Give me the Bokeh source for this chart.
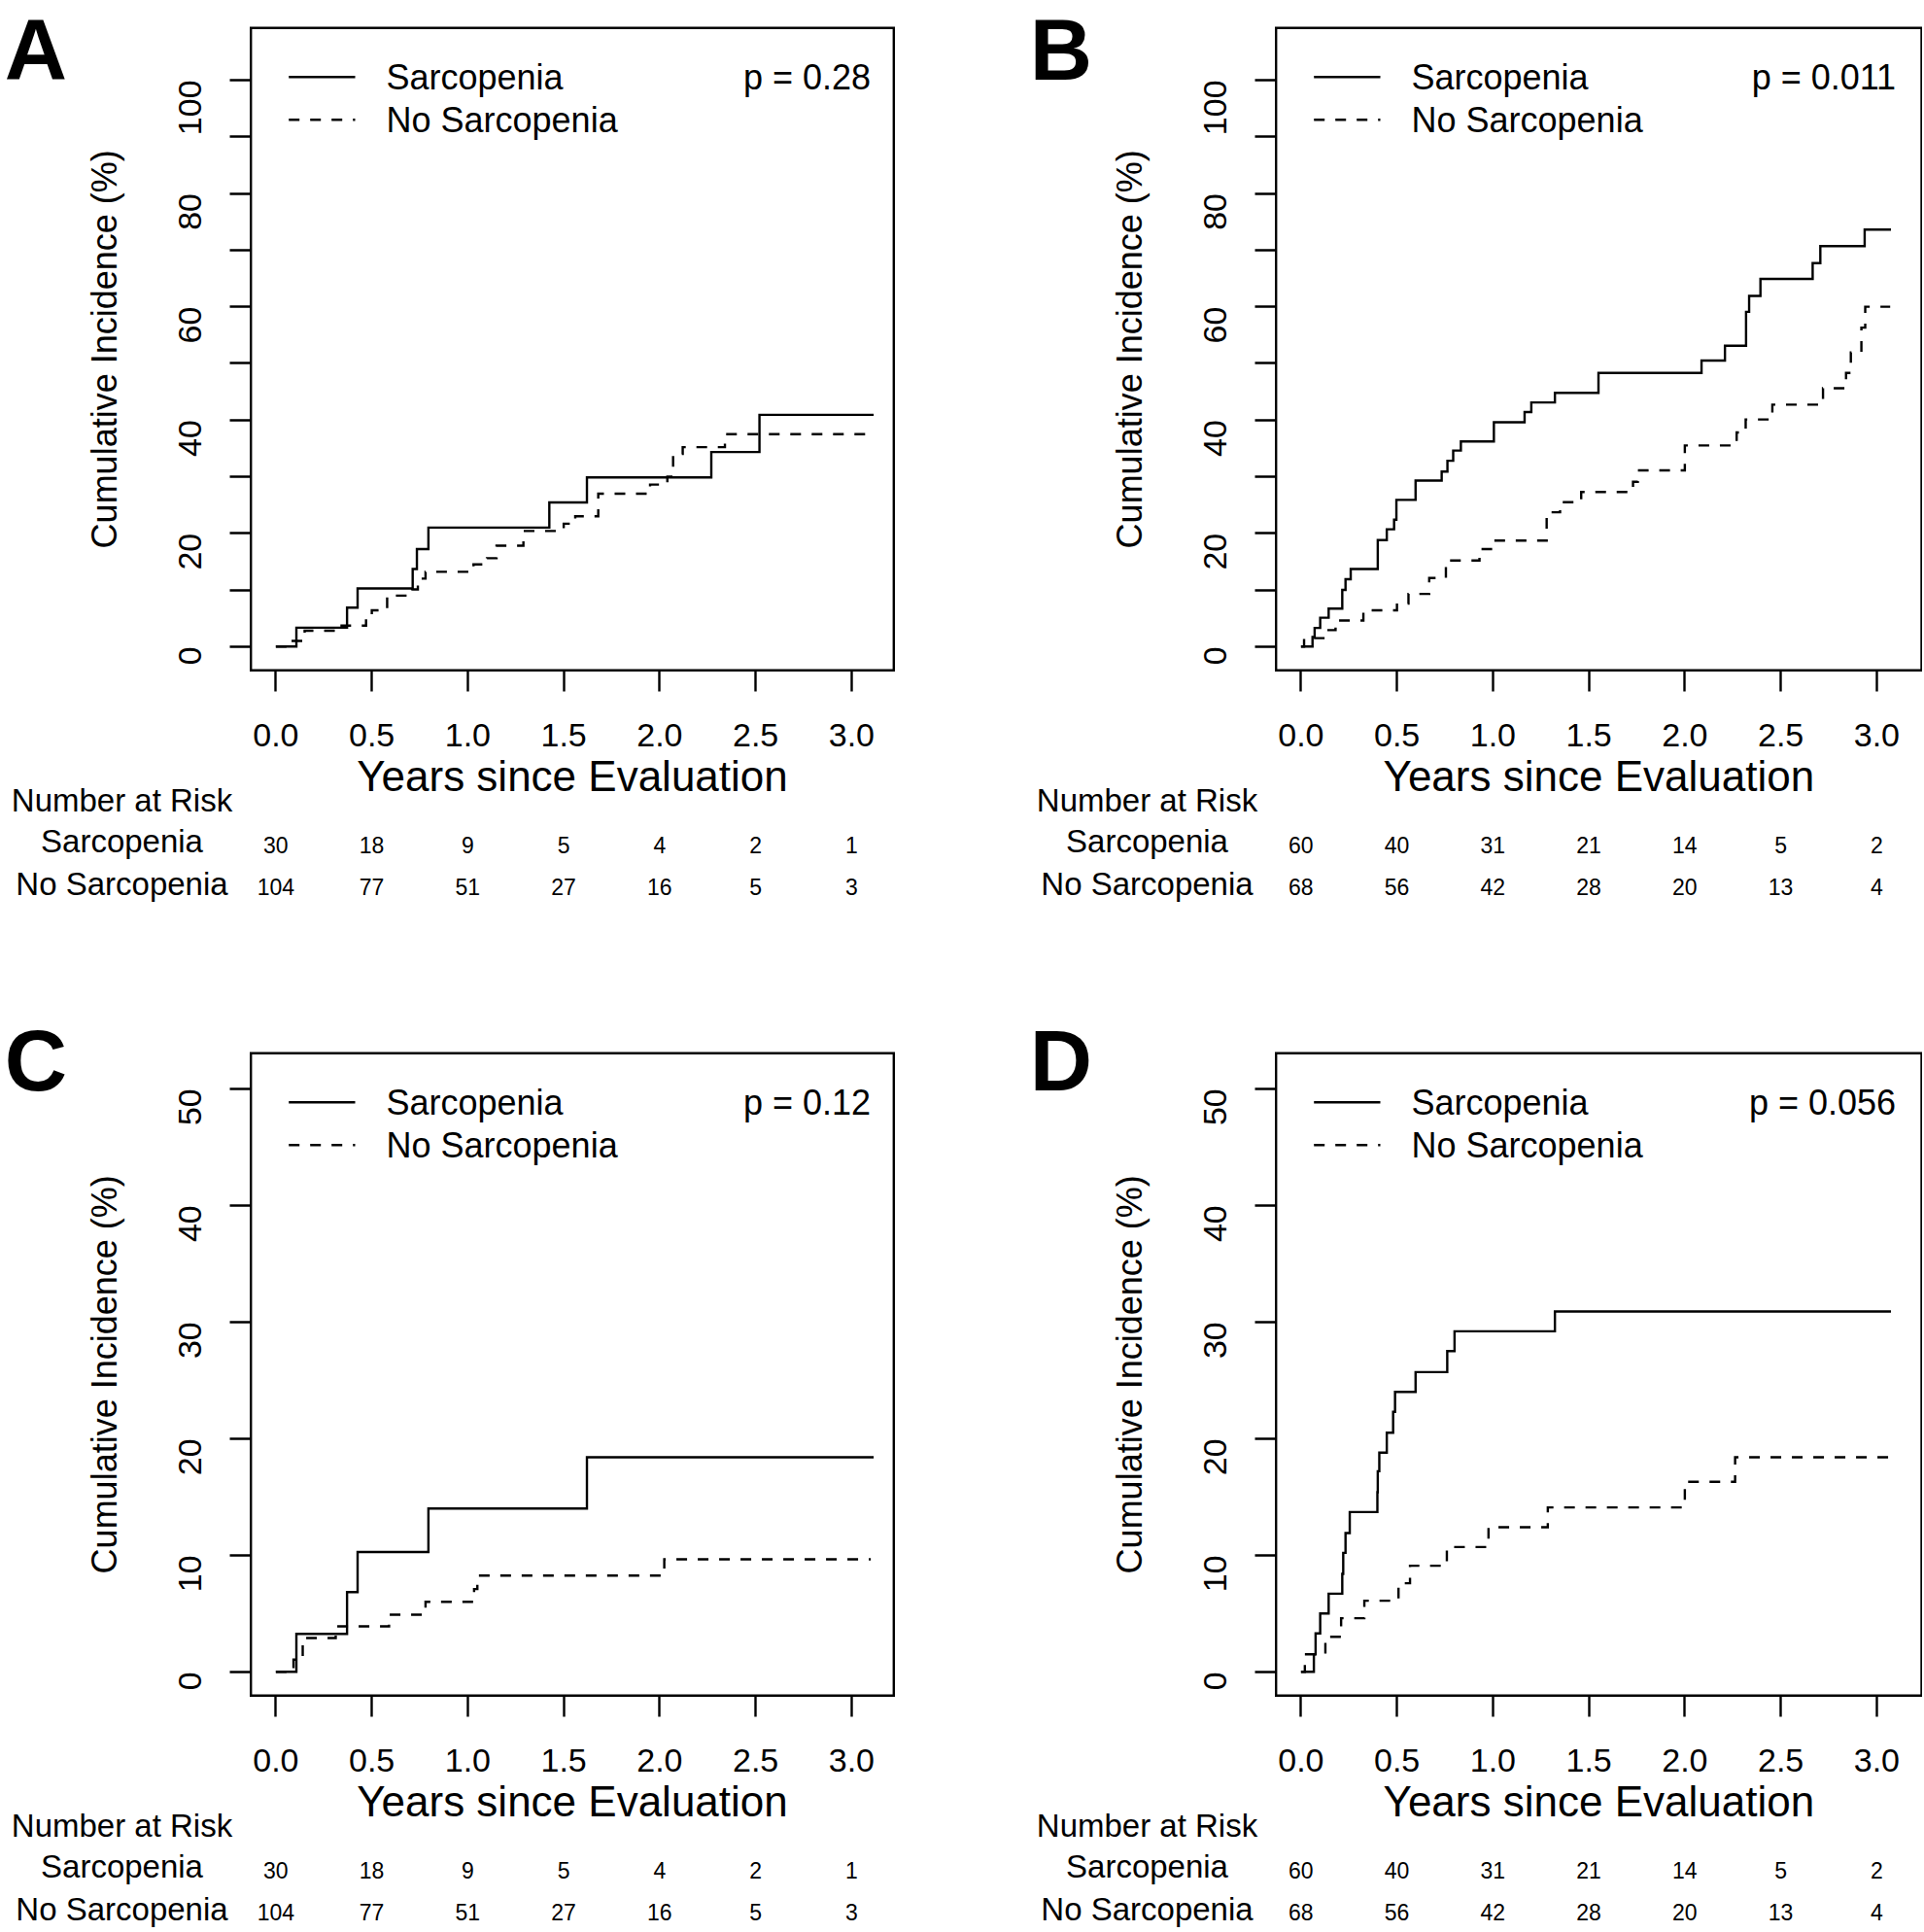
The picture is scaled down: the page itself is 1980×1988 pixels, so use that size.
import math
from bokeh.plotting import figure
from bokeh.models import (Range1d, FixedTicker, PrintfTickFormatter, Label,
                          LabelSet, ColumnDataSource)
from bokeh.core.properties import value
from bokeh.layouts import gridplot
from bokeh.embed import file_html
from bokeh.resources import INLINE

FONT = "Liberation Sans"

# ---------------- data ----------------
year_ticks = [0.0, 0.5, 1.0, 1.5, 2.0, 2.5, 3.0]
risk_times = [0.0, 0.5, 1.0, 1.5, 2.0, 2.5, 3.0]
group_names = ["Sarcopenia", "No Sarcopenia"]
p_values = ["p = 0.28", "p = 0.011", "p = 0.12", "p = 0.056"]
panel_letters = ["A", "B", "C", "D"]
x_title = "Years since Evaluation"
y_title = "Cumulative Incidence (%)"
table_title = "Number at Risk"

# Panel A (cumulative incidence, %)
a_sarc_t = [0.0, 0.107, 0.371, 0.426, 0.713, 0.735, 0.795, 1.425, 1.621, 2.269, 2.52, 3.115]
a_sarc_y = [0.0, 3.33, 6.87, 10.27, 13.7, 17.2, 21.0, 25.45, 29.86, 34.35, 40.9, 40.9]
a_nos_t = [0.0, 0.08, 0.15, 0.33, 0.47, 0.50, 0.58, 0.71, 0.74, 0.78, 1.03, 1.10, 1.15, 1.29,
           1.50, 1.56, 1.68, 1.95, 2.04, 2.07, 2.12, 2.34, 3.08]
a_nos_y = [0.0, 1.0, 2.8, 3.7, 5.5, 6.4, 9.0, 10.1, 12.0, 13.2, 14.5, 15.6, 17.8, 20.4,
           21.7, 23.0, 27.0, 28.6, 30.0, 34.0, 35.2, 37.5, 37.5]

# Panel B
b_sarc_t = [0.0, 0.06, 0.071, 0.10, 0.144, 0.215, 0.232, 0.259, 0.40, 0.447, 0.485, 0.497,
            0.597, 0.733, 0.763, 0.793, 0.833, 1.005, 1.165, 1.20, 1.323, 1.55, 2.087, 2.209,
            2.319, 2.335, 2.394, 2.666, 2.706, 2.937, 3.074]
b_sarc_y = [0.0, 1.7, 3.3, 5.1, 6.7, 10.0, 11.9, 13.7, 18.8, 20.7, 22.4, 25.9,
            29.3, 30.9, 32.8, 34.6, 36.2, 39.6, 41.4, 43.1, 44.8, 48.3, 50.5, 53.1,
            59.1, 61.9, 64.9, 67.7, 70.7, 73.6, 73.6]
b_nos_t = [0.0, 0.016, 0.127, 0.18, 0.325, 0.50, 0.56, 0.668, 0.755, 0.93, 1.0, 1.28, 1.35,
           1.46, 1.73, 1.755, 2.0, 2.27, 2.317, 2.456, 2.72, 2.84, 2.865, 2.92, 2.94, 3.07]
b_nos_y = [0.0, 1.5, 2.9, 4.6, 6.4, 7.6, 9.3, 12.1, 15.2, 17.2, 18.7, 23.7, 25.5,
           27.3, 29.1, 31.1, 35.5, 37.8, 40.1, 42.7, 45.6, 48.3, 51.9, 56.3, 60.0, 60.0]

# Panel C
c_sarc_t = [0.0, 0.107, 0.371, 0.426, 0.795, 1.621, 3.115]
c_sarc_y = [0.0, 3.26, 6.84, 10.28, 14.0, 18.4, 18.4]
c_nos_t = [0.0, 0.092, 0.14, 0.312, 0.59, 0.78, 1.033, 1.05, 2.024, 3.10]
c_nos_y = [0.0, 1.05, 2.9, 3.9, 4.9, 6.0, 7.1, 8.25, 9.65, 9.65]

# Panel D
d_sarc_t = [0.0, 0.067, 0.076, 0.10, 0.144, 0.215, 0.22, 0.232, 0.254, 0.398, 0.40, 0.408,
            0.447, 0.48, 0.49, 0.597, 0.762, 0.80, 1.323, 3.074]
d_sarc_y = [0.0, 1.5, 3.3, 5.0, 6.7, 8.4, 10.2, 11.9, 13.7, 15.4, 17.2, 18.8,
            20.5, 22.3, 24.0, 25.7, 27.5, 29.2, 30.9, 30.9]
d_nos_t = [0.0, 0.02, 0.127, 0.209, 0.33, 0.508, 0.568, 0.76, 0.977, 1.286, 2.0, 2.262, 3.06]
d_nos_y = [0.0, 1.5, 3.0, 4.6, 6.1, 7.6, 9.1, 10.7, 12.4, 14.1, 16.3, 18.4, 18.4]

# Numbers at risk
risk_ac_sarc = [30, 18, 9, 5, 4, 2, 1]
risk_ac_nos = [104, 77, 51, 27, 16, 5, 3]
risk_bd_sarc = [60, 40, 31, 21, 14, 5, 2]
risk_bd_nos = [68, 56, 42, 28, 20, 13, 4]

# y axis setups
ylim_top = [0, 105]      # panels A, B
ylim_bottom = [0, 51]    # panels C, D
yticks_top = list(range(0, 101, 10))
yticks_bottom = list(range(0, 51, 10))

# ---------------- layout constants (px) ----------------
PX_PER_YEAR = 197.5
X_LEFT = -0.13          # data x at the plot box's left edge
BOX_LEFT_OFF = 257.7    # box left, from panel origin
BOX_TOP_OFF = 28.3      # box top, from panel origin
BOX_H = 661.0
LW = 2.4


def make_panel(idx, ox, oy, fx, fy, fw, fh, bw, ylim, yticks, blank_ticks,
               st, sy, nt, ny, rs, rn):
    """(ox, oy): panel origin on the page; (fx, fy, fw, fh): canvas of this figure."""
    BL = ox + BOX_LEFT_OFF
    BT = oy + BOX_TOP_OFF
    BB = BT + BOX_H
    pad = 0.04 * (ylim[1] - ylim[0])
    ylo, yhi = ylim[0] - pad, ylim[1] + pad
    ppy = BOX_H / (yhi - ylo)
    bx0 = BL - X_LEFT * PX_PER_YEAR
    by0 = BT + yhi * ppy

    def X(px):
        return (px - bx0) / PX_PER_YEAR

    def Y(py):
        return (by0 - py) / ppy

    x_right = X(BL + bw)

    p = figure(width=fw, height=fh, x_range=Range1d(X(fx), X(fx + fw)),
               y_range=Range1d(Y(fy + fh), Y(fy)), output_backend="svg",
               toolbar_location=None, min_border=0)
    p.min_border_left = 0
    p.min_border_right = 0
    p.min_border_top = 0
    p.min_border_bottom = 0
    p.background_fill_color = "white"
    p.border_fill_color = "white"
    p.outline_line_color = None
    p.grid.visible = False

    # plot box (R plot region, 4% range extension)
    p.quad(left=[X_LEFT], right=[x_right], bottom=[ylo], top=[yhi],
           fill_color=None, line_color="black", line_width=LW, line_join="miter")

    # x axis, drawn on the box bottom
    xa = p.xaxis[0]
    xa.fixed_location = ylo
    xa.ticker = FixedTicker(ticks=year_ticks)
    xa.formatter = PrintfTickFormatter(format="%.1f")
    xa.axis_line_color = None
    xa.major_tick_out = 22
    xa.major_tick_in = 0
    xa.minor_tick_line_color = None
    xa.major_tick_line_width = LW
    xa.major_tick_line_color = "black"
    xa.major_label_text_font = FONT
    xa.major_label_text_font_size = "34px"
    xa.major_label_text_color = "black"
    xa.major_label_standoff = 33

    # y axis, drawn on the box left
    ya = p.yaxis[0]
    ya.fixed_location = X_LEFT
    ya.ticker = FixedTicker(ticks=yticks)
    ya.major_label_overrides = {t: "" for t in blank_ticks}
    ya.axis_line_color = None
    ya.major_tick_out = 22
    ya.major_tick_in = 0
    ya.minor_tick_line_color = None
    ya.major_tick_line_width = LW
    ya.major_tick_line_color = "black"
    ya.major_label_text_font = FONT
    ya.major_label_text_font_size = "34px"
    ya.major_label_text_color = "black"
    ya.major_label_orientation = math.pi / 2
    ya.major_label_standoff = 41

    def label(x, y, text, size, align="center", angle=0.0, style="normal"):
        p.add_layout(Label(x=x, y=y, text=text, text_font=FONT, text_font_size=size,
                           text_font_style=style, text_color="black",
                           text_align=align, text_baseline="middle", angle=angle))

    # axis titles
    label(X((BL + BL + bw) / 2), Y(BB + 108.5), x_title, "44px")
    label(X(BL - 151), Y((BT + BB) / 2), y_title, "36px", angle=math.pi / 2)

    # curves
    p.step(st, sy, mode="after", line_color="black", line_width=LW, line_join="miter")
    p.step(nt, ny, mode="after", line_color="black", line_width=LW,
           line_dash="11 11", line_join="miter")

    # legend (R-style, no box)
    ly = [BT + 50.4, BT + 94.4]
    p.line([X(BL + 39), X(BL + 107.3)], [Y(ly[0])] * 2, line_color="black", line_width=LW)
    p.line([X(BL + 39), X(BL + 107.3)], [Y(ly[1])] * 2, line_color="black", line_width=LW,
           line_dash="11 11")
    for k, name in enumerate(group_names):
        label(X(BL + 139.3), Y(ly[k]), name, "36px", align="left")
    label(3.1, Y(ly[0]), p_values[idx], "36px", align="right")

    # panel letter (kept fully inside its canvas)
    letter_y = max(BT + 7.6, fy + 50.0)
    label(X(BL - 253.4), Y(letter_y), panel_letters[idx], "89px", align="left",
          style="bold")

    # number at risk table
    cx = X(BL - 132.7)
    label(cx, Y(BB + 133.9), table_title, "33px")
    label(cx, Y(BB + 175.9), group_names[0], "33px")
    label(cx, Y(BB + 219.4), group_names[1], "33px")
    for vals, off in [(rs, 179.5), (rn, 223.0)]:
        src = ColumnDataSource(dict(x=risk_times, y=[Y(BB + off)] * len(vals),
                                    t=[str(v) for v in vals]))
        p.add_layout(LabelSet(x="x", y="y", text="t", source=src,
                              text_font=value(FONT), text_font_size=value("23px"),
                              text_color="black", text_align="center",
                              text_baseline="middle"))
    return p


TOP_H = 1030
BOT_H = 956
LEFT_W = 1055
RIGHT_W = 923

pA = make_panel(0, 0, 0, 0, 0, LEFT_W, TOP_H, 661.6, ylim_top, yticks_top,
                [10, 30, 50, 70, 90], a_sarc_t, a_sarc_y, a_nos_t, a_nos_y,
                risk_ac_sarc, risk_ac_nos)
pB = make_panel(1, 1055, 0, LEFT_W, 0, RIGHT_W, TOP_H, 664.3, ylim_top, yticks_top,
                [10, 30, 50, 70, 90], b_sarc_t, b_sarc_y, b_nos_t, b_nos_y,
                risk_bd_sarc, risk_bd_nos)
pC = make_panel(2, 0, 1055, 0, TOP_H, LEFT_W, BOT_H, 661.6, ylim_bottom, yticks_bottom,
                [], c_sarc_t, c_sarc_y, c_nos_t, c_nos_y, risk_ac_sarc, risk_ac_nos)
pD = make_panel(3, 1055, 1055, LEFT_W, TOP_H, RIGHT_W, BOT_H, 664.3, ylim_bottom,
                yticks_bottom, [], d_sarc_t, d_sarc_y, d_nos_t, d_nos_y,
                risk_bd_sarc, risk_bd_nos)

grid = gridplot([[pA, pB], [pC, pD]], toolbar_location=None)

open("out.html", "w").write(file_html(grid, INLINE))
